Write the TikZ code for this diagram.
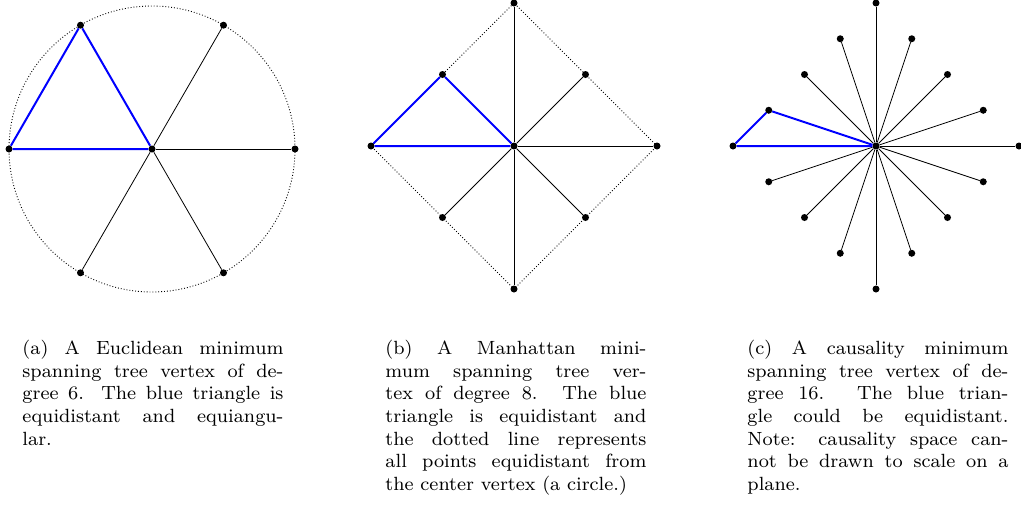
\documentclass[tikz,border=0pt]{standalone}
\usetikzlibrary{calc}
\begin{document}
\begin{tikzpicture}[x=1pt,y=-1pt,
  vtx/.style={circle,fill=black,inner sep=0pt,minimum size=7pt},
  spoke/.style={line width=0.8pt},
  tri/.style={blue,line width=2pt},
  bound/.style={dotted,line width=0.9pt},
  captext/.style={anchor=north west,inner sep=0pt,scale=2.39,transform shape,
    text width=109.2pt,align=justify,
    font=\fontsize{8}{9.5}\selectfont}]
\useasboundingbox (0,0) rectangle (1021,512);
% ---------- (a) ----------
\node[vtx] (a0) at (152,149) {};
\node[vtx] (a1) at (295,149) {};
\node[vtx] (a2) at (223.5,25.2) {};
\node[vtx] (a3) at (80.5,25.2) {};
\node[vtx] (a4) at (9,149) {};
\node[vtx] (a5) at (80.5,272.8) {};
\node[vtx] (a6) at (223.5,272.8) {};
\draw[bound] (a0.center) circle (143);
\foreach \i in {1,2,5,6} \draw[spoke] (a0) -- (a\i);
\draw[tri] (a0) -- (a3) -- (a4) -- (a0);
% ---------- (b) ----------
\node[vtx] (b0) at (514,146) {};
\node[vtx] (b1) at (657,146) {};
\node[vtx] (b2) at (585.5,74.5) {};
\node[vtx] (b3) at (514,3) {};
\node[vtx] (b4) at (442.5,74.5) {};
\node[vtx] (b5) at (371,146) {};
\node[vtx] (b6) at (442.5,217.5) {};
\node[vtx] (b7) at (514,289) {};
\node[vtx] (b8) at (585.5,217.5) {};
\draw[bound] (b1.center) -- (b3.center) -- (b5.center) -- (b7.center) -- cycle;
\foreach \i in {1,2,3,6,7,8} \draw[spoke] (b0) -- (b\i);
\draw[tri] (b0) -- (b4) -- (b5) -- (b0);
% ---------- (c) ----------
\node[vtx] (c0) at (876,146) {};
\foreach \i/\dx/\dy in {1/143/0, 2/107.25/-35.75, 3/71.5/-71.5, 4/35.75/-107.25,
    5/0/-143, 6/-35.75/-107.25, 7/-71.5/-71.5, 8/-107.25/-35.75, 9/-143/0,
    10/-107.25/35.75, 11/-71.5/71.5, 12/-35.75/107.25, 13/0/143,
    14/35.75/107.25, 15/71.5/71.5, 16/107.25/35.75}
  \node[vtx] (c\i) at (876+\dx,146+\dy) {};
\foreach \i in {1,...,7,10,11,...,16} \draw[spoke] (c0) -- (c\i);
\draw[tri] (c0) -- (c8) -- (c9) -- (c0);
% ---------- captions ----------
\node[captext] (capa) at (22,339.5) {(a) A Euclidean minimum\linebreak
  spanning tree vertex of de-\linebreak gree 6. The blue triangle is\linebreak
  equidistant and equiangu-\linebreak lar.};
\node[captext] (capb) at (385,339.5) {(b) A Manhattan mini-\linebreak
  mum spanning tree ver-\linebreak tex of degree 8. The blue\linebreak
  triangle is equidistant and\linebreak the dotted line represents\linebreak
  all points equidistant from\linebreak the center vertex (a circle.)};
\node[captext] (capc) at (747,339.5) {(c) A causality minimum\linebreak
  spanning tree vertex of de-\linebreak gree 16. The blue trian-\linebreak
  gle could be equidistant.\linebreak Note: causality space can-\linebreak
  not be drawn to scale on a\linebreak plane.};
\end{tikzpicture}
\end{document}
